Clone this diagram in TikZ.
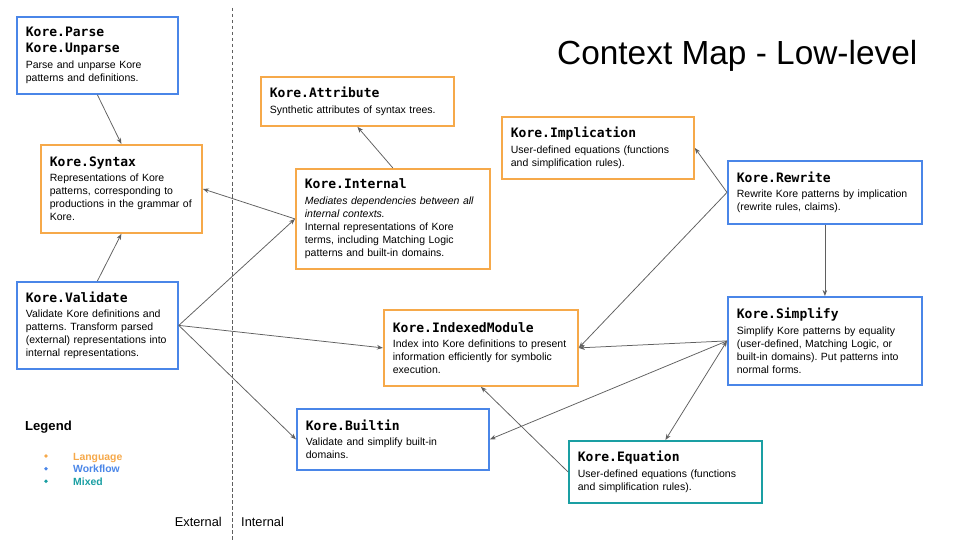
\documentclass[tikz,border=0pt]{standalone}
\usepackage{fontspec}
\setmainfont{Liberation Sans}
\newfontfamily\kmono{DejaVu Sans Mono}
\usetikzlibrary{arrows.meta}
\frenchspacing

\definecolor{langc}{HTML}{F6A94A}
\definecolor{flowc}{HTML}{4A86E8}
\definecolor{mixc}{HTML}{1A9FA3}
\definecolor{linec}{HTML}{5F5F5F}

\newcommand\kname[1]{{\kmono\bfseries\fontsize{13}{16}\selectfont #1}}

\begin{document}
\begin{tikzpicture}[
    x=1pt, y=-1pt,
    ctxbox/.style={line width=1.8pt, fill=white, text=black, anchor=north west, inner xsep=9pt, inner ysep=0pt, align=left, font=\fontsize{10.5}{13}\selectfont},
    lang/.style={ctxbox, draw=langc},
    flow/.style={ctxbox, draw=flowc},
    mixed/.style={ctxbox, draw=mixc},
    arr/.style={-{Stealth[length=6pt, width=4.5pt]}, linec, line width=0.75pt},
    biarr/.style={arr, {Stealth[length=6pt, width=4.5pt]}-{Stealth[length=6pt, width=4.5pt]}},
    lbl/.style={text=black, inner sep=0pt, font=\fontsize{12.8}{15}\selectfont},
    key/.style={inner sep=0pt, anchor=base west, font=\bfseries\fontsize{10.4}{12}\selectfont},
    dot/.style={circle, inner sep=0pt, minimum size=3.8pt}
]
\fill[white] (0,0) rectangle (960,540);
\useasboundingbox (0,0) rectangle (960,540);

% ---------- Divider ----------
\draw[linec, line width=0.7pt, dash pattern=on 3.5pt off 2.5pt] (232,8) -- (232,540);
\node[lbl, anchor=base east] (external) at (222,526) {External};
\node[lbl, anchor=base west] (internalside) at (241,526) {Internal};

% ---------- Title ----------
\node[anchor=base west, inner sep=0pt, font=\fontsize{33.4}{40}\selectfont] (title) at (557,64.5) {Context Map - Low-level};

% ---------- Contexts ----------
\node[flow, text width=143pt, minimum height=77pt] (parse) at (16,16)
    {\kname{Kore.Parse}\\[3pt]\kname{Kore.Unparse}\\[2.5pt]Parse and unparse Kore\\patterns and definitions.};
\node[lang, text width=143pt, minimum height=88pt] (syntax) at (40,144)
    {\kname{Kore.Syntax}\\[2.5pt]Representations of Kore\\patterns, corresponding to\\productions in the grammar of\\Kore.};
\node[flow, text width=143pt, minimum height=87pt] (validate) at (16,281)
    {\kname{Kore.Validate}\\[2.5pt]Validate Kore definitions and\\patterns. Transform parsed\\(external) representations into\\internal representations.};
\node[lang, text width=175pt, minimum height=49pt] (attribute) at (260,76)
    {\kname{Kore.Attribute}\\[2.5pt]Synthetic attributes of syntax trees.};
\node[lang, text width=176pt, minimum height=100pt] (internal) at (295,168)
    {\kname{Kore.Internal}\\[2.5pt]\textit{Mediates dependencies between all}\\\textit{internal contexts.}\\Internal representations of Kore\\terms, including Matching Logic\\patterns and built-in domains.};
\node[lang, text width=174pt, minimum height=62pt] (implication) at (501,116)
    {\kname{Kore.Implication}\\[2.5pt]User-defined equations (functions\\and simplification rules).};
\node[flow, text width=176pt, minimum height=63pt] (rewrite) at (727,160)
    {\kname{Kore.Rewrite}\\[2.5pt]Rewrite Kore patterns by implication\\(rewrite rules, claims).};
\node[flow, text width=176pt, minimum height=88pt] (simplify) at (727,296)
    {\kname{Kore.Simplify}\\[2.5pt]Simplify Kore patterns by equality\\(user-defined, Matching Logic, or\\built-in domains). Put patterns into\\normal forms.};
\node[lang, text width=176pt, minimum height=76pt] (indexed) at (383,309)
    {\kname{Kore.IndexedModule}\\[2.5pt]Index into Kore definitions to present\\information efficiently for symbolic\\execution.};
\node[flow, text width=174pt, minimum height=61pt] (builtin) at (296,408)
    {\kname{Kore.Builtin}\\[2.5pt]Validate and simplify built-in\\domains.};
\node[mixed, text width=175pt, minimum height=62pt] (equation) at (568,440)
    {\kname{Kore.Equation}\\[2.5pt]User-defined equations (functions\\and simplification rules).};

% ---------- Legend ----------
\node[anchor=base west, inner sep=0pt, font=\bfseries\fontsize{13.1}{15}\selectfont] (legend) at (25,430) {Legend};
\node[dot, fill=langc] (langdot) at (46,456) {};
\node[dot, fill=flowc] (flowdot) at (46,468.7) {};
\node[dot, fill=mixc] (mixdot) at (46,481.3) {};
\node[key, text=langc] (langkey) at (73,460) {Language};
\node[key, text=flowc] (flowkey) at (73,472.5) {Workflow};
\node[key, text=mixc] (mixkey) at (73,485) {Mixed};

% ---------- Dependencies ----------
\draw[arr] (parse.south) -- (syntax.north);
\draw[arr] (validate.north) -- (syntax.south);
\draw[arr] (internal.west) -- (syntax.east);
\draw[arr] (validate.east) -- (internal.west);
\draw[arr] (validate.east) -- (indexed.west);
\draw[arr] (validate.east) -- (builtin.west);
\draw[arr] (internal.north) -- (attribute.south);

\draw[arr] (rewrite.west) -- (implication.east);
\draw[arr] (rewrite.west) -- (indexed.east);
\draw[arr] (rewrite.south) -- (simplify.north);

\draw[arr] (simplify.west) -- (indexed.east);
\draw[arr] (simplify.west) -- (builtin.east);
\draw[biarr] (simplify.west) -- (equation.north);
\draw[arr] (equation.west) -- (indexed.south);

\end{tikzpicture}
\end{document}
